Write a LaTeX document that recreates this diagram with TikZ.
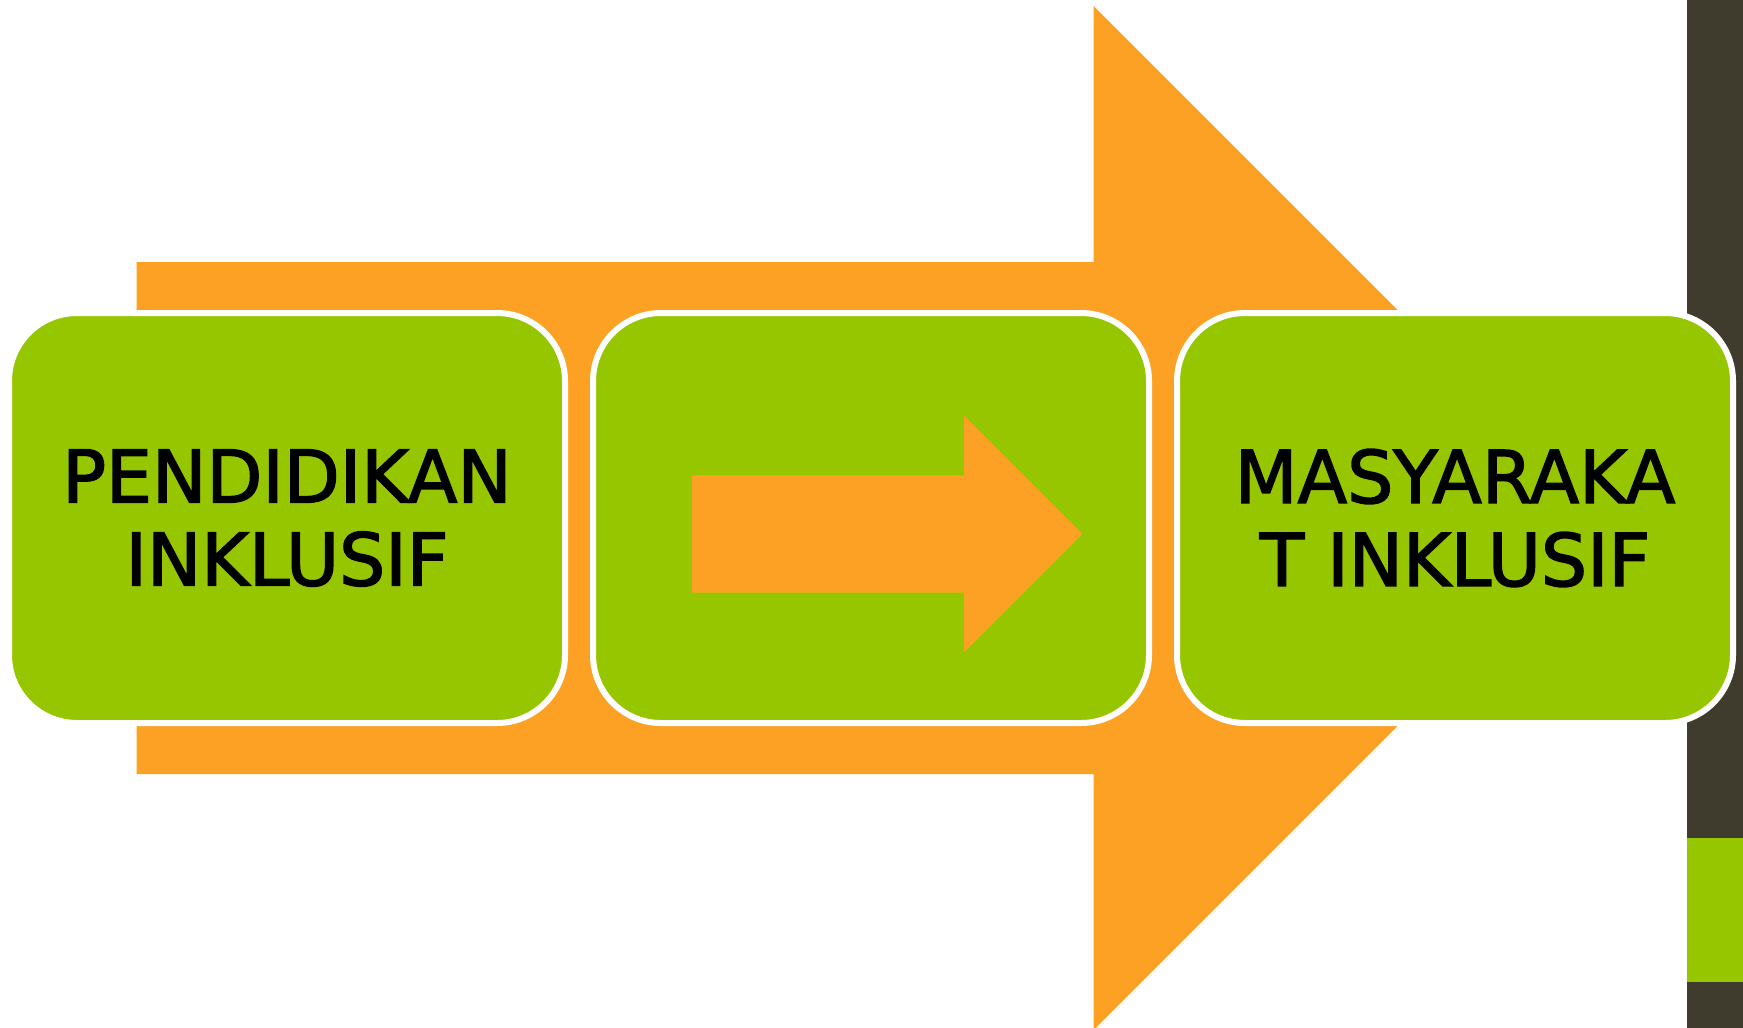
\documentclass[tikz,border=0pt]{standalone}
\usepackage{fontspec}
\newfontfamily\labelfont{DejaVu Sans}[FakeBold=2]
\definecolor{arroworange}{HTML}{FDA124}
\definecolor{boxgreen}{HTML}{96C600}
\definecolor{stripdark}{HTML}{3F3C2E}
\pgfdeclareradialshading{vignette}{\pgfpoint{0bp}{0bp}}{color(0bp)=(white); color(42bp)=(white); color(71bp)=(black!10)}
\tikzset{
  greenbox/.style={draw=white, line width=6pt, fill=boxgreen, rounded corners=68pt,
    minimum width=556pt, minimum height=410pt, inner sep=0pt, align=center, text=black,
    font=\labelfont\fontsize{72.7}{83}\selectfont},
  orangeshape/.style={fill=arroworange}
}
\begin{document}
\begin{tikzpicture}[x=1pt,y=-1pt]
\useasboundingbox (0,0) rectangle (1743,1028);
\clip (0,0) rectangle (1743,1028);
% background
\fill[white] (0,0) rectangle (1743,1028);
\shade[shading=vignette] (0,0) rectangle (1687,1028);
% right strip
\fill[stripdark] (1687,0) rectangle (1743,1028);
\fill[boxgreen] (1687,838) rectangle (1743,982);
% big arrow
\fill[orangeshape] (136.5,262) -- (1093.5,262) -- (1093.5,6) -- (1605.5,518)
  -- (1093.5,1030) -- (1093.5,774) -- (136.5,774) -- cycle;
% boxes
\node[greenbox] (b1) at (287,518) {PENDIDIKAN\\INKLUSIF};
\node[greenbox] (b2) at (871,518) {};
\node[greenbox] (b3) at (1455,518) {MASYARAKA\\T INKLUSIF};
% small arrow
\fill[orangeshape] (692,475.3) -- (964,475.3) -- (964,415.7) -- (1082.3,534)
  -- (964,652.3) -- (964,592.7) -- (692,592.7) -- cycle;
\end{tikzpicture}
\end{document}
